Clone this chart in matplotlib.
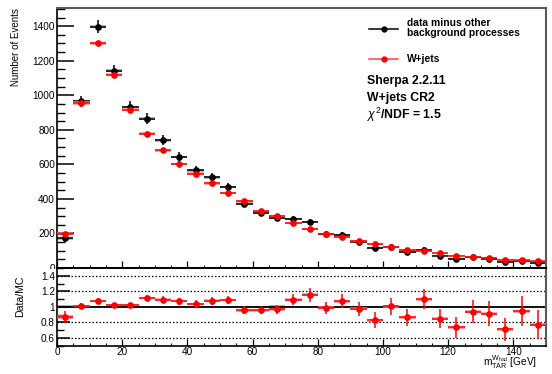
import matplotlib as mpl
import matplotlib.pyplot as plt
import numpy as np
from matplotlib.lines import Line2D
from matplotlib.patches import Rectangle
from matplotlib.ticker import MultipleLocator, FixedLocator


mpl.rcParams.update(
    {
        "font.family": ["Liberation Sans", "DejaVu Sans"],
        "mathtext.fontset": "custom",
        "mathtext.rm": "Liberation Sans",
        "mathtext.it": "Liberation Sans:italic",
        "mathtext.bf": "Liberation Sans:bold",
        "font.size": 7.2,
        "xtick.labelsize": 7.2,
        "ytick.labelsize": 7.2,
    }
)

# binning of the x axis (GeV)
BIN_EDGES = np.arange(0, 155, 5)

# data minus other backgrounds, W+jets MC
DATA = [172, 964, 1396, 1142, 932, 864, 739, 643, 565, 525, 469, 373, 319, 290, 282,
        265, 198, 192, 153, 115, 120, 92, 107, 72, 53, 62, 54, 36, 43, 30]
DATA_ERR = [19, 33, 37, 35, 32, 31, 29, 27, 25, 24, 23, 21, 19, 18, 18,
            17, 15, 15, 14, 13, 13, 12, 12, 11, 10, 10, 10, 9, 9, 9]
DATA_BOX = [10, 9, 9, 8, 8, 8, 8, 7, 7, 7, 7, 7, 6, 6, 6,
            6, 6, 6, 5, 5, 5, 5, 5, 5, 4, 4, 4, 4, 4, 4]
MC = [199, 955, 1300, 1120, 916, 777, 681, 602, 546, 490, 435, 388, 332, 299, 261,
      227, 199, 178, 155, 140, 120, 104, 97, 84, 72, 66, 59, 49, 45, 39]
MC_BOX = [9, 10, 10, 9, 9, 8, 8, 8, 7, 7, 7, 7, 6, 6, 6,
          6, 5, 6, 5, 5, 5, 5, 5, 4, 4, 4, 4, 4, 4, 4]

# ratio panel
RATIO = [0.87, 1.01, 1.08, 1.02, 1.02, 1.115, 1.094, 1.072, 1.038, 1.08, 1.09, 0.957,
         0.957, 0.97, 1.094, 1.158, 0.987, 1.072, 0.974, 0.828, 1.008, 0.867, 1.10,
         0.846, 0.735, 0.94, 0.91, 0.709, 0.944, 0.77]
RATIO_ERR = [0.075, 0.035, 0.03, 0.03, 0.035, 0.04, 0.04, 0.045, 0.045, 0.05, 0.055,
             0.05, 0.055, 0.06, 0.065, 0.09, 0.075, 0.09, 0.09, 0.1, 0.11, 0.11, 0.13,
             0.12, 0.13, 0.15, 0.16, 0.15, 0.19, 0.19]
RATIO_BOX = [0.02, 0.012, 0.012, 0.012, 0.012, 0.015, 0.015, 0.015, 0.015, 0.015, 0.015,
             0.02, 0.02, 0.02, 0.02, 0.02, 0.02, 0.02, 0.02, 0.02, 0.02, 0.02, 0.02,
             0.02, 0.02, 0.02, 0.02, 0.02, 0.02, 0.02]
MC_BAND = [0.02, 0.006, 0.006, 0.006, 0.006, 0.006, 0.006, 0.006, 0.006, 0.006, 0.006,
           0.008, 0.015, 0.02, 0.008, 0.008, 0.008, 0.008, 0.008, 0.008, 0.008, 0.008,
           0.008, 0.008, 0.008, 0.008, 0.008, 0.008, 0.008, 0.008]

RATIO_GRID = [0.6, 0.8, 1.2, 1.4]

W, H = 552, 374


def fx(px):
    return px / W


def fy(py):
    return 1 - py / H


def style_frame(ax, major_y, minor_y):
    for side in ["left", "bottom"]:
        ax.spines[side].set_linewidth(1.2)
        ax.spines[side].set_color("black")
    for side in ["top", "right"]:
        ax.spines[side].set_linewidth(1.5)
        ax.spines[side].set_color("#5a5a5a")
    ax.tick_params(axis="y", which="major", direction="in", length=major_y, width=1.1, pad=1.5)
    ax.tick_params(axis="y", which="minor", direction="in", length=minor_y, width=1.0)
    ax.tick_params(axis="x", which="major", direction="in", length=5, width=0.9, pad=1.2)
    ax.tick_params(axis="x", which="minor", direction="in", length=2.5, width=0.8)


def main():
    centers = 0.5 * (BIN_EDGES[:-1] + BIN_EDGES[1:])
    widths = np.diff(BIN_EDGES)
    data = np.array(DATA, float)
    mc = np.array(MC, float)
    ratio = np.array(RATIO)

    fig = plt.figure(figsize=(W / 100, H / 100), dpi=100)
    ax = fig.add_axes([fx(57), fy(268), fx(546) - fx(57), fy(8) - fy(268)])
    axr = fig.add_axes([fx(57), fy(345.7), fx(546) - fx(57), fy(268) - fy(345.7)])
    ax.set_zorder(0)
    axr.set_zorder(2)

    # the lower pad covers the bottom of the main panel's "0" label
    fig.add_artist(Rectangle((0, 0), fx(57), fy(268.5), transform=fig.transFigure,
                             facecolor="white", edgecolor="none", zorder=1))

    # main panel
    ax.bar(centers, 2 * np.array(DATA_BOX), bottom=data - np.array(DATA_BOX), width=widths,
           color="#9a9a9a", alpha=0.7, linewidth=0, zorder=1)
    ax.errorbar(centers, data, yerr=DATA_ERR, xerr=widths / 2, fmt="o", color="black",
                ms=3.8, elinewidth=1.1, capsize=0, zorder=2)
    ax.bar(centers, 2 * np.array(MC_BOX), bottom=mc - np.array(MC_BOX), width=widths,
           color="#ff7f7f", alpha=0.7, linewidth=0, zorder=3)
    ax.errorbar(centers, mc, xerr=widths / 2, fmt="o", color="#ff0000",
                ms=3.8, elinewidth=1.1, capsize=0, zorder=4)
    ax.set_xlim(0, 150)
    ax.set_ylim(0, 1505)
    ax.yaxis.set_major_locator(MultipleLocator(200))
    ax.yaxis.set_minor_locator(MultipleLocator(50))
    ax.xaxis.set_major_locator(MultipleLocator(20))
    ax.xaxis.set_minor_locator(MultipleLocator(5))
    ax.set_xticklabels([])
    style_frame(ax, 12, 6)

    # ratio panel
    for g in RATIO_GRID:
        axr.axhline(g, color="black", lw=0.9, ls=(0, (1.2, 1.6)), zorder=1)
    axr.bar(centers, 2 * np.array(MC_BAND), bottom=1 - np.array(MC_BAND), width=widths,
            color="#a0a0a0", alpha=0.8, linewidth=0, zorder=1)
    axr.axhline(1.0, color="black", lw=1.3, zorder=2)
    axr.bar(centers, 2 * np.array(RATIO_BOX), bottom=ratio - np.array(RATIO_BOX), width=widths,
            color="#ff7f7f", alpha=0.7, linewidth=0, zorder=3)
    axr.errorbar(centers, ratio, yerr=RATIO_ERR, xerr=widths / 2, fmt="o", color="#ff0000",
                 ms=3.8, elinewidth=1.1, capsize=0, zorder=4)
    axr.set_xlim(0, 150)
    axr.set_ylim(0.5, 1.5)
    axr.yaxis.set_major_locator(FixedLocator([0.6, 0.8, 1.0, 1.2, 1.4]))
    axr.set_yticklabels(["0.6", "0.8", "1", "1.2", "1.4"])
    axr.yaxis.set_minor_locator(MultipleLocator(0.1))
    axr.xaxis.set_major_locator(MultipleLocator(20))
    axr.xaxis.set_minor_locator(MultipleLocator(5))
    style_frame(axr, 9.5, 4.8)
    axr.spines["top"].set_color("black")
    axr.spines["top"].set_linewidth(1.4)

    # axis titles
    fig.text(fx(16), fy(8), "Number of Events", rotation=90, ha="center", va="top", fontsize=7)
    fig.text(fx(20), fy(276), "Data/MC", rotation=90, ha="center", va="top", fontsize=7.6)
    fig.text(fx(537), fy(366), r"$\mathrm{m}_{\mathrm{TAR}}^{\mathrm{W}_{\mathrm{had}}}$ [GeV]",
             ha="right", va="baseline", fontsize=7.3)

    # legend
    fig.add_artist(Line2D([fx(369), fx(398)], [fy(29.3), fy(29.3)], color="black", lw=1.1))
    fig.add_artist(Line2D([fx(383.5)], [fy(29.3)], marker="o", ms=3.5, color="black"))
    fig.text(fx(406.7), fy(28), "data minus other\nbackground processes", ha="left", va="center",
             fontsize=7.4, fontweight="bold", linespacing=0.95)
    fig.add_artist(Line2D([fx(369), fx(398)], [fy(59.3), fy(59.3)], color="#ff4040", lw=1.1))
    fig.add_artist(Line2D([fx(383.5)], [fy(59.3)], marker="o", ms=3.5, color="#ff0000"))
    fig.text(fx(406.7), fy(59.5), "W+jets", ha="left", va="center", fontsize=7.4, fontweight="bold")

    fig.text(fx(366.7), fy(81), "Sherpa 2.2.11", ha="left", va="center", fontsize=8.8, fontweight="bold")
    fig.text(fx(366.7), fy(97.5), "W+jets CR2", ha="left", va="center", fontsize=8.8, fontweight="bold")
    fig.text(fx(366.7), fy(114.5), r"$\chi^{2}$/NDF = 1.5", ha="left", va="center",
             fontsize=8.8, fontweight="bold")

    fig.savefig("out.png", dpi=100)
    plt.close(fig)


if __name__ == "__main__":
    main()
